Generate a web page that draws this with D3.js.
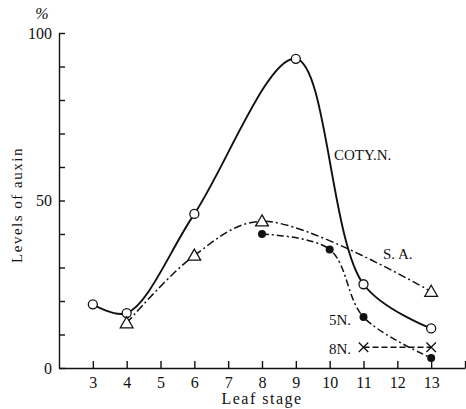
<!DOCTYPE html>
<html>
<head>
<meta charset="utf-8">
<script src="https://cdn.jsdelivr.net/npm/d3@7"></script>
<style>
body { margin: 0; background: #fff; }
svg text { font-family: "Liberation Serif", "DejaVu Serif", serif !important; fill: #111; }
</style>
</head>
<body>
<div id="chart"></div>
<script>
// values
var xTicks = [3, 4, 5, 6, 7, 8, 9, 10, 11, 12, 13, 14];
var xLabels = ["3", "4", "5", "6", "7", "8", "9", "10", "11", "12", "13", ""];
var yTicks = [0, 10, 20, 30, 40, 50, 60, 70, 80, 90, 100];
var yLabels = ["0", "", "", "", "", "50", "", "", "", "", "100"];

var cotyX = [3, 4, 6, 9, 11, 13];
var cotyY = [19, 16.4, 46, 92.3, 25, 11.8];
var saX = [4, 6, 8, 13];
var saY = [13.4, 33.6, 43.8, 22.8];
var n5X = [8, 10, 11, 13];
var n5Y = [40, 35.4, 15.2, 3];
var n8X = [11, 13];
var n8Y = [6.2, 6.2];

var w = 466, h = 409;

var x = d3.scaleLinear().domain([2, 14]).range([59, 465]);
var y = d3.scaleLinear().domain([0, 100]).range([368, 33]);

var svg = d3.select("#chart")
            .append("svg")
            .attr("width", w)
            .attr("height", h)
            .attr("font-family", "Liberation Serif");

// axes
var xAxis = d3.axisBottom(x)
            .tickValues(xTicks)
            .tickSizeInner(-7)
            .tickSizeOuter(0)
            .tickPadding(9)
            .tickFormat(function(d, i){ return xLabels[i]; });
var gx = svg.append("g")
            .attr("transform", "translate(0," + y(0) + ")")
            .call(xAxis)
            .attr("font-family", "Liberation Serif")
            .attr("font-size", 16);

var yAxis = d3.axisLeft(y)
            .tickValues(yTicks)
            .tickSizeInner(-6)
            .tickSizeOuter(0)
            .tickPadding(7)
            .tickFormat(function(d, i){ return yLabels[i]; });
var gy = svg.append("g")
            .attr("transform", "translate(" + x(2) + ",0)")
            .call(yAxis)
            .attr("font-family", "Liberation Serif")
            .attr("font-size", 16);

svg.selectAll(".domain, .tick line")
    .attr("stroke", "#111")
    .attr("stroke-width", 1.4);

// axis titles
svg.append("text")
    .attr("x", x(8))
    .attr("y", 404)
    .attr("text-anchor", "middle")
    .attr("font-size", 16)
    .attr("letter-spacing", 1.5)
    .text("Leaf stage");

svg.append("text")
    .attr("transform", "translate(22,205) rotate(-90)")
    .attr("text-anchor", "middle")
    .attr("font-size", 15)
    .attr("letter-spacing", 1.5)
    .text("Levels of auxin");

svg.append("text")
    .attr("x", 42)
    .attr("y", 19)
    .attr("text-anchor", "middle")
    .attr("font-size", 16)
    .attr("font-style", "italic")
    .text("%");

// lines
var line = d3.line()
            .x(function(d){ return x(d[0]); })
            .y(function(d){ return y(d[1]); })
            .curve(d3.curveCatmullRom.alpha(0.5));

function pairs(xs, ys) {
    return xs.map(function(v, i){ return [v, ys[i]]; });
}

svg.append("path")
    .datum(pairs(saX, saY))
    .attr("d", line)
    .attr("fill", "none")
    .attr("stroke", "#111")
    .attr("stroke-width", 1.5)
    .attr("stroke-dasharray", "8,3,2,3");

svg.append("path")
    .datum(pairs(n5X, n5Y))
    .attr("d", line)
    .attr("fill", "none")
    .attr("stroke", "#111")
    .attr("stroke-width", 1.5)
    .attr("stroke-dasharray", "7,3,2,3");

svg.append("path")
    .datum(pairs(n8X, n8Y))
    .attr("d", line)
    .attr("fill", "none")
    .attr("stroke", "#111")
    .attr("stroke-width", 1.4)
    .attr("stroke-dasharray", "6,3");

svg.append("path")
    .datum(pairs(cotyX, cotyY))
    .attr("d", line)
    .attr("fill", "none")
    .attr("stroke", "#111")
    .attr("stroke-width", 1.9);

// markers
svg.selectAll(".coty")
    .data(pairs(cotyX, cotyY))
    .enter()
    .append("circle")
    .attr("class", "coty")
    .attr("cx", function(d){ return x(d[0]); })
    .attr("cy", function(d){ return y(d[1]); })
    .attr("r", 4.5)
    .attr("fill", "#fff")
    .attr("stroke", "#111")
    .attr("stroke-width", 1.3);

var tri = d3.symbol().type(d3.symbolTriangle).size(70);
svg.selectAll(".sa")
    .data(pairs(saX, saY))
    .enter()
    .append("path")
    .attr("class", "sa")
    .attr("d", tri)
    .attr("transform", function(d){ return "translate(" + x(d[0]) + "," + (y(d[1]) + 1) + ")"; })
    .attr("fill", "#fff")
    .attr("stroke", "#111")
    .attr("stroke-width", 1.3);

svg.selectAll(".n5")
    .data(pairs(n5X, n5Y))
    .enter()
    .append("circle")
    .attr("class", "n5")
    .attr("cx", function(d){ return x(d[0]); })
    .attr("cy", function(d){ return y(d[1]); })
    .attr("r", 4)
    .attr("fill", "#111");

var cross = d3.symbol().type(d3.symbolX).size(60);
svg.selectAll(".n8")
    .data(pairs(n8X, n8Y))
    .enter()
    .append("path")
    .attr("class", "n8")
    .attr("d", cross)
    .attr("transform", function(d){ return "translate(" + x(d[0]) + "," + y(d[1]) + ")"; })
    .attr("fill", "none")
    .attr("stroke", "#111")
    .attr("stroke-width", 1.3);

// series labels
svg.append("text").attr("x", 334).attr("y", 160).attr("font-size", 15).text("COTY.N.");
svg.append("text").attr("x", 383).attr("y", 259).attr("font-size", 15).text("S. A.");
svg.append("text").attr("x", 329).attr("y", 325).attr("font-size", 15).text("5N.");
svg.append("text").attr("x", 329).attr("y", 354).attr("font-size", 15).text("8N.");
</script>
</body>
</html>
